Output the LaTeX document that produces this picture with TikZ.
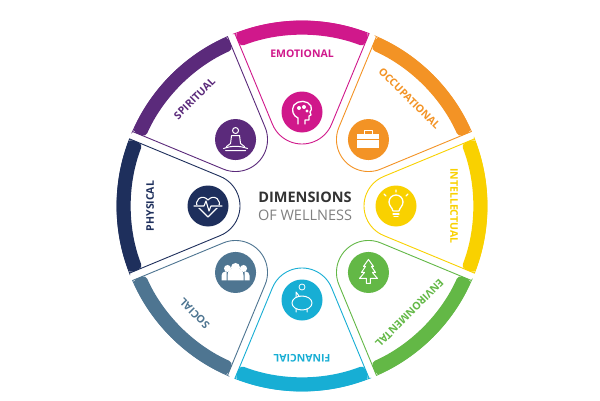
\documentclass[tikz,border=0pt]{standalone}
\usepackage{fontspec}
\setsansfont{Open Sans}
\definecolor{emo}{HTML}{D0188B}
\definecolor{occ}{HTML}{F39325}
\definecolor{intl}{HTML}{F9D100}
\definecolor{env}{HTML}{63B846}
\definecolor{fin}{HTML}{17AED4}
\definecolor{soc}{HTML}{4E7591}
\definecolor{phy}{HTML}{1E2F5C}
\definecolor{spi}{HTML}{5B2A7B}
\definecolor{txt}{HTML}{333333}
\newcommand\wseg[4]{%
\begin{scope}[shift={(302,194)},rotate=#1-90]
 \filldraw[draw=#2,fill=white,line width=0.9] (-67.1,172.4) -- (-29.56,81.75) arc (202.5:337.5:32) -- (67.1,172.4) arc (68.73:111.27:185) -- cycle;
 \fill[#2,rounded corners=4] (68.73:185) arc (68.73:111.27:185) -- (111.2:171) arc (111.2:68.8:171) -- cycle;
\end{scope}
\node[lab,text=#2,rotate=#1-90] (#4) at ([shift={(#1:152)}]302,194) {#3};
\fill[#2] (302,194) ++(#1:94) circle (20.5);}
\begin{document}
\begin{tikzpicture}[x=1pt,y=1pt,ic/.style={white,line width=1.3,line join=round,line cap=round},
 lab/.style={font=\sffamily\bfseries\fontsize{10.5}{10.5}\selectfont,inner sep=0pt}]
\useasboundingbox (0,0) rectangle (600,400);
\fill[white] (0,0) rectangle (600,400);
\wseg{90}{emo}{EMOTIONAL}{l1}
\wseg{45}{occ}{OCCUPATIONAL}{l2}
\wseg{0}{intl}{INTELLECTUAL}{l3}
\wseg{-45}{env}{ENVIRONMENTAL}{l4}
\wseg{-90}{fin}{FINANCIAL}{l5}
\wseg{-135}{soc}{SOCIAL}{l6}
\wseg{180}{phy}{PHYSICAL}{l7}
\wseg{135}{spi}{SPIRITUAL}{l8}
% icons
\begin{scope}[shift={(302,194)},shift={(90:94)}] % head
 \draw[ic] (-4,-12) -- (-4,-6) .. controls (-9,-4) and (-11,2) .. (-8,7) .. controls (-4,12) and (6,12) .. (9,6) .. controls (10,3) and (9,1) .. (8,0) -- (9,-3) -- (7,-4) -- (7,-8) -- (3,-8) -- (3,-12);
 \fill[white] (-3,4) circle (2) (2,5) circle (2) (5,1) circle (1.7);
\end{scope}
\begin{scope}[shift={(302,194)},shift={(45:94)}] % briefcase
 \fill[white] (-11,-8) rectangle (11,6);
 \draw[ic] (-4,6) -- (-4,9) -- (4,9) -- (4,6);
 \draw[occ,line width=0.8] (-11,0) -- (11,0);
\end{scope}
\begin{scope}[shift={(302,194)},shift={(0:94)}] % bulb
 \draw[ic] (-3,-5) .. controls (-4,-1) and (-7,0) .. (-7,4) arc (180:0:7) .. controls (7,0) and (4,-1) .. (3,-5) -- cycle;
 \draw[ic] (-3,-8) -- (3,-8) (-2,-10.5) -- (2,-10.5);
 \draw[ic] (0,14) -- (0,16) (10,10) -- (12,12) (-10,10) -- (-12,12);
\end{scope}
\begin{scope}[shift={(302,194)},shift={(-45:94)}] % tree
 \draw[ic,line width=1] (0,13) -- (-5,6) -- (-3,6) -- (-7,0) -- (-4,0) -- (-9,-6) -- (-2,-6) -- (-2,-11) -- (2,-11) -- (2,-6) -- (9,-6) -- (4,0) -- (7,0) -- (3,6) -- (5,6) -- cycle;
\end{scope}
\begin{scope}[shift={(302,194)},shift={(-90:94)}] % piggy
 \draw[ic,line width=1] (0,-3) ellipse (10 and 7);
 \draw[ic,line width=1] (-6,-9) -- (-6,-12) (5,-9) -- (5,-12) (-3,4) -- (-6,8) -- (-6,3);
 \draw[ic,line width=0.8] (0,13) circle (3);
\end{scope}
\begin{scope}[shift={(302,194)},shift={(-135:94)}] % people
 \fill[white] (0,5) circle (4.5) (-8,4) circle (3.5) (8,4) circle (3.5);
 \fill[white] (-8,-8) -- (-8,-3) arc (180:0:8) -- (8,-8) -- cycle;
 \fill[white] (-14,-8) -- (-14,-3) arc (180:90:4) -- (-9,1) -- (-9,-8) -- cycle;
 \fill[white] (14,-8) -- (14,-3) arc (0:90:4) -- (9,1) -- (9,-8) -- cycle;
\end{scope}
\begin{scope}[shift={(302,194)},shift={(180:94)}] % heart
 \draw[ic,line width=1.1] (0,-11) -- (-10,-1) .. controls (-15,5) and (-6,13) .. (0,6) .. controls (6,13) and (15,5) .. (10,-1) -- cycle;
 \draw[phy,line width=3] (-13,0) -- (13,0);
 \draw[ic,line width=1.1] (-14,0) -- (-4,0) -- (-2,5) -- (1,-5) -- (3,0) -- (14,0);
\end{scope}
\begin{scope}[shift={(302,194)},shift={(135:94)}] % meditation
 \draw[ic,line width=1] (0,9) circle (3);
 \draw[ic,line width=1] (-4,4) -- (4,4) -- (5,-4) -- (9,-7) (-4,4) -- (-5,-4) -- (-9,-7);
 \draw[ic,line width=1] (-12,-9) .. controls (-4,-6) and (4,-6) .. (12,-9) (-10,-11) -- (10,-11);
\end{scope}
\node[txt,font=\sffamily\bfseries\fontsize{14.5}{14.5}\selectfont] (t1) at (305,203) {DIMENSIONS};
\node[gray,font=\sffamily\fontsize{14.5}{14.5}\selectfont] (t2) at (305,185) {OF WELLNESS};
\end{tikzpicture}
\end{document}
